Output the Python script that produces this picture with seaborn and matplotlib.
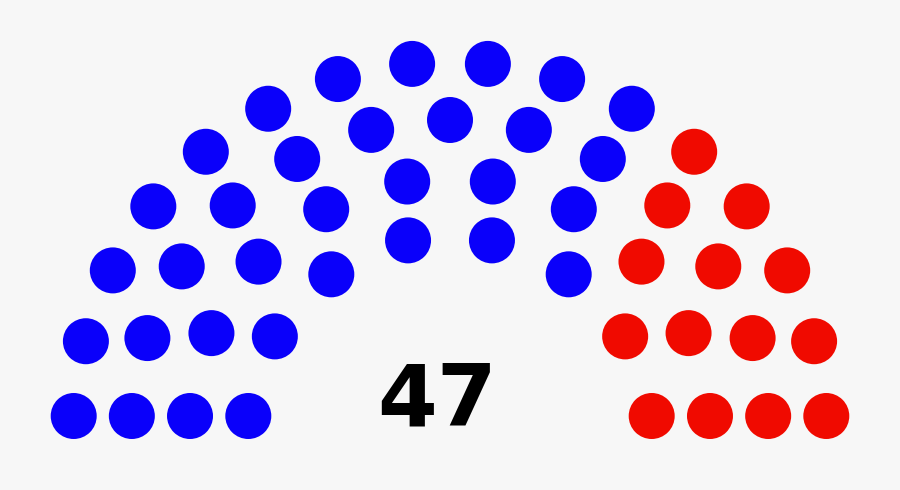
import numpy as np
import pandas as pd
import matplotlib
matplotlib.use("Agg")
import matplotlib.pyplot as plt
import seaborn as sns

# seats per party, in seating order from left to right
parties = ["Blue", "Red"]
seats = [33, 14]
colors = ["#0A00FA", "#F00A00"]
total_label = "47"

# hemicycle layout (pixels): seats on each of four rings
ring_radius = [377, 319, 261, 203]
ring_seats = [16, 13, 10, 8]
cx, cy, base_off = 450, 439, 23

rows = []
for r, n in zip(ring_radius, ring_seats):
    a0 = np.arcsin(base_off / r)
    for a in np.linspace(np.pi - a0, a0, n):
        rows.append({"angle": a, "x": cx + r * np.cos(a), "y": cy - r * np.sin(a)})
df = pd.DataFrame(rows).sort_values("angle", ascending=False).reset_index(drop=True)
df["party"] = np.repeat(parties, seats)

sns.set_theme(style="white")
fig = plt.figure(figsize=(9, 4.9), dpi=100)
fig.patch.set_facecolor("#F7F7F7")
ax = fig.add_axes([0, 0, 1, 1])
ax.set_facecolor("#F7F7F7")

dot_px = 46
sns.scatterplot(data=df, x="x", y="y", hue="party", palette=dict(zip(parties, colors)),
                s=(dot_px * 72 / 100) ** 2, linewidth=0, legend=False, ax=ax)

ax.text(437, 402, total_label, ha="center", va="center", fontsize=62,
        fontweight="bold", color="black", family="DejaVu Sans")

ax.set_xlim(0, 900)
ax.set_ylim(490, 0)
ax.set_axis_off()
fig.savefig("out.png", dpi=100, facecolor=fig.get_facecolor())
